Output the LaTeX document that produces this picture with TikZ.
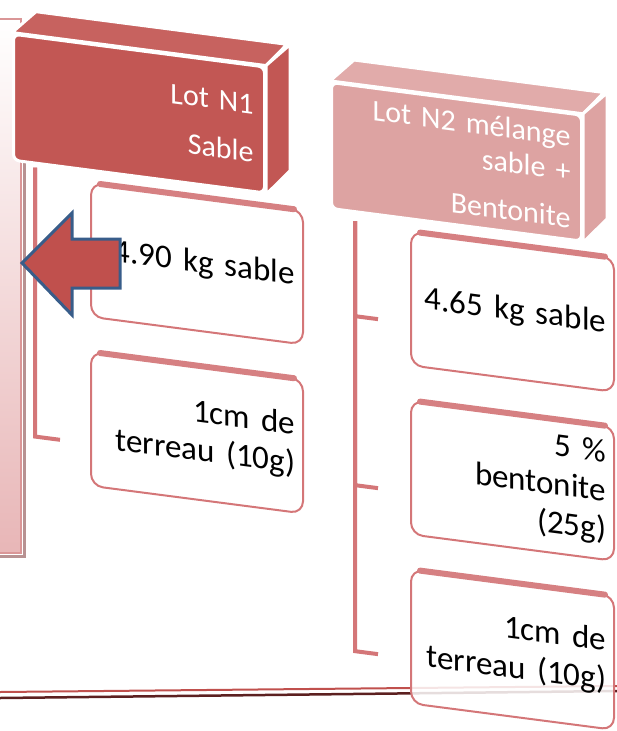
\documentclass[tikz,border=0pt]{standalone}
\usepackage{fontspec}
\setmainfont{Carlito}
\usetikzlibrary{calc}
\definecolor{lotred}{RGB}{194,87,84}
\definecolor{lotredtop}{RGB}{199,98,95}
\definecolor{lotpink}{RGB}{221,163,162}
\definecolor{lotpinktop}{RGB}{225,171,170}
\definecolor{leafline}{RGB}{212,118,120}
\definecolor{leaftop}{RGB}{214,128,130}
\definecolor{arrowblue}{RGB}{56,93,138}
\definecolor{arrowred}{RGB}{192,80,77}
\definecolor{panelpink}{RGB}{232,182,183}
\definecolor{panelline}{RGB}{218,150,151}
\definecolor{panelshadow}{RGB}{184,146,146}
\definecolor{floordark}{RGB}{92,32,32}
\begin{document}
\begin{tikzpicture}[x=1pt,y=-1pt]
  \pgfmathsetmacro{\sl}{-0.13}
  \tikzstyle{hdr}=[draw=white, line width=3pt, rounded corners=6pt, inner xsep=11pt, minimum height=126pt,
                   anchor=north west, text=white, align=right, font=\fontsize{30}{35}\selectfont]
  \tikzstyle{sideface}=[draw=white, line width=3pt, line join=round]
  \tikzstyle{leaf}=[draw=leafline, line width=2pt, rounded corners=12pt, fill=white, fill opacity=0.85, text opacity=1,
                    inner xsep=8pt, minimum height=134pt, anchor=north west, align=right,
                    font=\fontsize{33}{39}\selectfont]
  \tikzstyle{leaftopline}=[draw=leaftop, line width=6pt, line cap=round]
  \tikzstyle{treeline}=[draw=leafline, line width=4pt]
  \useasboundingbox (0,0) rectangle (617,731);

  % panel on the left
  \shade[top color=white, bottom color=panelpink] (0,19) rectangle (21,553);
  \draw[panelline, line width=2pt] (0,19) -- (21,19) -- (21,553) -- (0,553);
  \draw[panelshadow, line width=3pt] (24,22) -- (24,556) -- (0,556);

  % floor lines
  \draw[arrowred, line width=2pt] (0,692) -- (617,686);
  \draw[floordark, line width=2.5pt] (0,698) -- (617,691);

  \begin{scope}[cm={1,\sl,0,1,(0,0)}, transform shape]
    % headers
    \node[hdr, fill=lotred, text width=229pt] (N1) at (12,31) {Lot N1\\[13pt]Sable};
    \fill[lotredtop, sideface] (N1.north west) -- ++(24,-24) -- ++(251,0) -- (N1.north east) -- cycle;
    \fill[lotred, sideface] (N1.north east) -- ++(24,-24) -- ++(0,126) -- (N1.south east) -- cycle;

    \node[hdr, fill=lotpink, text width=228pt] (N2) at (330,38) {Lot N2 mélange\\ sable +\\[12pt]Bentonite};
    \fill[lotpinktop, sideface] (N2.north west) -- ++(24,-24) -- ++(250,0) -- (N2.north east) -- cycle;
    \fill[lotpink, sideface] (N2.north east) -- ++(24,-24) -- ++(0,126) -- (N2.south east) -- cycle;

    % leaves
    \node[leaf, text width=196pt] (A) at (90,170) {4.90 kg sable};
    \node[leaf, text width=196pt] (B) at (90,339) {1cm de\\ terreau (10g)};
    \node[leaf, text width=187pt] (C) at (410,177) {4.65 kg sable};
    \node[leaf, text width=187pt] (D) at (410,346) {5 \%\\ bentonite\\ (25g)};
    \node[leaf, text width=187pt] (E) at (410,515) {1cm de\\ terreau (10g)};
    \foreach \n in {A,B,C,D,E}
      \draw[leaftopline] ([xshift=10pt,yshift=-1pt]\n.north west) -- ([xshift=-10pt,yshift=-1pt]\n.north east);

    % tree lines
    \coordinate (N1t) at ($(N1.south west)+(23,3)$);
    \coordinate (N2t) at ($(N2.south west)+(25,8)$);
    \draw[treeline] (N1t) |- ($(A.west)+(-30,25)$);
    \draw[treeline] (N1t) |- ($(B.west)+(-30,25)$);
    \draw[treeline] (N2t) |- ($(C.west)+(-32,25)$);
    \draw[treeline] (N2t) |- ($(D.west)+(-32,25)$);
    \draw[treeline] (N2t) |- ($(E.west)+(-32,22)$);
  \end{scope}

  % arrow
  \draw[fill=arrowred, draw=arrowblue, line width=3pt, line join=miter]
    (22,263) -- (72,213) -- (72,239) -- (120,239) -- (120,288) -- (72,288) -- (72,315) -- cycle;
\end{tikzpicture}
\end{document}
